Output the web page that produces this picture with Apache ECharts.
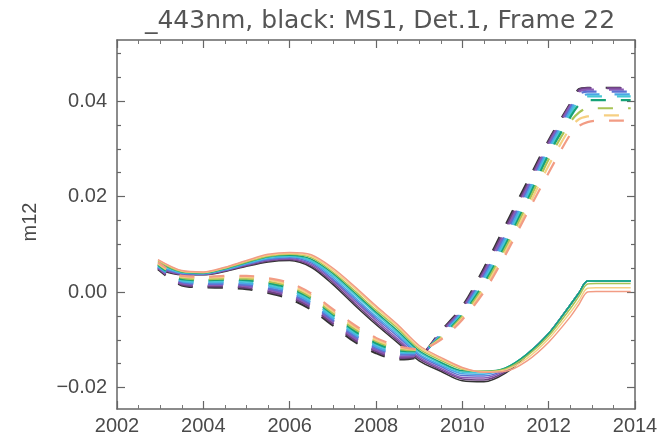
<!DOCTYPE html>
<html>
<head>
<meta charset="utf-8">
<script src="https://cdn.jsdelivr.net/npm/echarts@6/dist/echarts.min.js"></script>
<style>
  html, body { margin: 0; padding: 0; background: #fff; }
  #chart { width: 664px; height: 440px; }
</style>
</head>
<body>
<div id="chart"></div>
<script>
// Sample epochs (decimal years) shared by every curve
const years = [2002.95, 2003.5, 2004, 2004.5, 2005, 2005.5, 2006, 2006.5, 2007, 2007.5, 2008, 2008.5,
               2009, 2009.5, 2010, 2010.5, 2011, 2011.5, 2012, 2012.5, 2012.7, 2012.9, 2013.1, 2013.5, 2013.9];

// m12 model, solid curves (black = MS1 Det.1, then the colour sequence)
const solid0 = [0.0047,0.0036,0.0036,0.0043,0.0054,0.0063,0.0066,0.0052,0.0016,-0.0027,-0.0068,-0.0106,-0.0144,-0.0166,-0.0186,-0.0188,-0.0170,-0.0132,-0.0087,-0.0027,-0.0002,0.0023,0.0023,0.0023,0.0023];
const solid1 = [0.0049,0.0037,0.0037,0.0044,0.0055,0.0065,0.0068,0.0055,0.0020,-0.0023,-0.0064,-0.0102,-0.0140,-0.0163,-0.0182,-0.0184,-0.0167,-0.0131,-0.0087,-0.0027,-0.0002,0.0023,0.0023,0.0023,0.0023];
const solid2 = [0.0051,0.0038,0.0037,0.0045,0.0057,0.0067,0.0070,0.0058,0.0024,-0.0018,-0.0059,-0.0098,-0.0137,-0.0160,-0.0179,-0.0180,-0.0164,-0.0130,-0.0087,-0.0027,-0.0002,0.0023,0.0023,0.0023,0.0023];
const solid3 = [0.0054,0.0039,0.0038,0.0046,0.0058,0.0068,0.0072,0.0061,0.0027,-0.0014,-0.0055,-0.0093,-0.0133,-0.0156,-0.0175,-0.0176,-0.0162,-0.0130,-0.0087,-0.0027,-0.0002,0.0023,0.0023,0.0023,0.0023];
const solid4 = [0.0056,0.0040,0.0039,0.0047,0.0059,0.0070,0.0074,0.0064,0.0031,-0.0010,-0.0051,-0.0089,-0.0130,-0.0153,-0.0171,-0.0172,-0.0160,-0.0130,-0.0087,-0.0027,-0.0002,0.0023,0.0023,0.0023,0.0023];
const solid5 = [0.0059,0.0041,0.0039,0.0048,0.0061,0.0072,0.0075,0.0066,0.0035,-0.0005,-0.0046,-0.0085,-0.0126,-0.0150,-0.0168,-0.0169,-0.0159,-0.0130,-0.0087,-0.0027,-0.0002,0.0023,0.0023,0.0023,0.0023];
const solid6 = [0.0062,0.0042,0.0040,0.0049,0.0062,0.0074,0.0077,0.0069,0.0039,-0.0001,-0.0042,-0.0081,-0.0123,-0.0147,-0.0165,-0.0166,-0.0159,-0.0130,-0.0087,-0.0027,-0.0002,0.0023,0.0023,0.0023,0.0023];
const solid7 = [0.0065,0.0043,0.0041,0.0050,0.0063,0.0075,0.0079,0.0072,0.0042,0.0003,-0.0038,-0.0076,-0.0119,-0.0143,-0.0162,-0.0166,-0.0161,-0.0134,-0.0092,-0.0035,-0.0009,0.0017,0.0018,0.0018,0.0018];
const solid8 = [0.0067,0.0044,0.0041,0.0051,0.0065,0.0077,0.0081,0.0075,0.0046,0.0008,-0.0033,-0.0072,-0.0116,-0.0140,-0.0160,-0.0167,-0.0163,-0.0139,-0.0098,-0.0043,-0.0018,0.0008,0.0009,0.0009,0.0009];
const solid9 = [0.0068,0.0045,0.0042,0.0052,0.0066,0.0079,0.0083,0.0078,0.0050,0.0012,-0.0029,-0.0068,-0.0112,-0.0137,-0.0158,-0.0168,-0.0166,-0.0144,-0.0105,-0.0052,-0.0026,0.0000,0.0001,0.0001,0.0001];

// m12 model, dashed curves (same colour sequence)
const dash0 = [0.0048,0.0014,0.0010,0.0009,0.0006,-0.0002,-0.0014,-0.0037,-0.0070,-0.0104,-0.0128,-0.0141,-0.0135,-0.0082,-0.0030,0.0050,0.0140,0.0230,0.0318,0.0395,0.0425,0.0428,0.0428,0.0428,0.0428];
const dash1 = [0.0050,0.0016,0.0012,0.0012,0.0009,0.0001,-0.0010,-0.0033,-0.0066,-0.0100,-0.0124,-0.0138,-0.0134,-0.0084,-0.0033,0.0045,0.0134,0.0224,0.0315,0.0393,0.0423,0.0427,0.0427,0.0427,0.0427];
const dash2 = [0.0051,0.0018,0.0015,0.0015,0.0012,0.0005,-0.0007,-0.0029,-0.0062,-0.0096,-0.0121,-0.0135,-0.0132,-0.0086,-0.0036,0.0040,0.0127,0.0218,0.0310,0.0390,0.0419,0.0424,0.0424,0.0424,0.0424];
const dash3 = [0.0053,0.0021,0.0017,0.0017,0.0015,0.0008,-0.0003,-0.0026,-0.0059,-0.0092,-0.0117,-0.0131,-0.0130,-0.0088,-0.0039,0.0034,0.0120,0.0212,0.0305,0.0385,0.0414,0.0420,0.0420,0.0420,0.0420];
const dash4 = [0.0054,0.0023,0.0020,0.0020,0.0018,0.0012,0.0001,-0.0022,-0.0055,-0.0088,-0.0114,-0.0128,-0.0128,-0.0090,-0.0042,0.0029,0.0113,0.0205,0.0300,0.0379,0.0407,0.0414,0.0414,0.0414,0.0414];
const dash5 = [0.0056,0.0025,0.0022,0.0023,0.0022,0.0015,0.0004,-0.0018,-0.0051,-0.0085,-0.0110,-0.0125,-0.0126,-0.0092,-0.0045,0.0023,0.0106,0.0198,0.0294,0.0373,0.0401,0.0410,0.0410,0.0410,0.0410];
const dash6 = [0.0057,0.0027,0.0025,0.0026,0.0025,0.0019,0.0008,-0.0014,-0.0047,-0.0081,-0.0107,-0.0122,-0.0124,-0.0094,-0.0048,0.0018,0.0099,0.0191,0.0288,0.0366,0.0392,0.0402,0.0402,0.0402,0.0402];
const dash7 = [0.0059,0.0030,0.0027,0.0028,0.0028,0.0022,0.0012,-0.0011,-0.0044,-0.0077,-0.0103,-0.0119,-0.0122,-0.0096,-0.0051,0.0012,0.0092,0.0183,0.0278,0.0356,0.0376,0.0385,0.0385,0.0385,0.0385];
const dash8 = [0.0060,0.0032,0.0030,0.0031,0.0031,0.0026,0.0015,-0.0007,-0.0040,-0.0073,-0.0100,-0.0116,-0.0121,-0.0098,-0.0055,0.0006,0.0085,0.0174,0.0265,0.0344,0.0362,0.0368,0.0370,0.0370,0.0370];
const dash9 = [0.0062,0.0034,0.0032,0.0034,0.0034,0.0029,0.0019,-0.0003,-0.0036,-0.0069,-0.0096,-0.0113,-0.0120,-0.0100,-0.0058,0.0000,0.0078,0.0165,0.0250,0.0330,0.0348,0.0356,0.0359,0.0359,0.0359];

const solidSets = [solid0, solid1, solid2, solid3, solid4, solid5, solid6, solid7, solid8, solid9];
const dashSets  = [dash0, dash1, dash2, dash3, dash4, dash5, dash6, dash7, dash8, dash9];
const colors = ['#333333', '#6e4282', '#8c5ab4', '#5e72d2', '#4aa6e6', '#46c6d6', '#16a277', '#a8c455', '#f6cf82', '#f29c84'];

// Axis ticks and labels
const yMajor = [-0.02, 0.00, 0.02, 0.04];
const yMinor = [-0.015, -0.01, -0.005, 0.005, 0.01, 0.015, 0.025, 0.03, 0.035, 0.045, 0.05];
const xRange = [2002, 2014];
const yRange = [-0.0245, 0.0528];

const titleText = '_443nm, black: MS1, Det.1, Frame 22';
const yName = 'm12';

const axisColor = '#666';
const textColor = '#4a4a4a';
const labelFont = 'Liberation Sans, Arial, sans-serif';

const chart = echarts.init(document.getElementById('chart'), null, { renderer: 'canvas' });

const fmtY = v => (Math.abs(v) < 1e-9 ? '0.00' : v.toFixed(2).replace('-', '\u2212'));
const fmtX = v => String(Math.round(v));

function xAx(pos, showLabel) {
  return {
    type: 'value', position: pos, min: xRange[0], max: xRange[1], interval: 2,
    axisLine: { show: true, onZero: false, lineStyle: { color: axisColor, width: 1.5 } },
    axisTick: { show: true, inside: true, length: 8, lineStyle: { color: axisColor, width: 1.2 } },
    minorTick: { show: true, splitNumber: 4, length: 4, lineStyle: { color: '#777', width: 1 } },
    axisLabel: { show: showLabel, formatter: fmtX, color: textColor, fontSize: 20, fontFamily: labelFont, margin: 7 },
    splitLine: { show: false }
  };
}

function yAx(pos, ticks, len, showLabel, showLine) {
  return {
    type: 'value', position: pos, min: yRange[0], max: yRange[1],
    axisLine: { show: showLine, onZero: false, lineStyle: { color: axisColor, width: 1.5 } },
    axisTick: { show: true, inside: true, length: len, customValues: ticks, lineStyle: { color: axisColor, width: 1.2 } },
    axisLabel: { show: showLabel, customValues: ticks, formatter: fmtY, color: textColor, fontSize: 20, fontFamily: labelFont, margin: 10 },
    splitLine: { show: false }
  };
}

const series = [];
solidSets.forEach((vals, i) => {
  series.push({
    type: 'line', xAxisIndex: 0, yAxisIndex: 0,
    data: years.map((x, k) => [x, vals[k]]),
    showSymbol: false, smooth: 0.3, silent: true,
    lineStyle: { color: colors[i], width: 1.5 }
  });
});
dashSets.forEach((vals, i) => {
  series.push({
    type: 'line', xAxisIndex: 0, yAxisIndex: 0,
    data: years.map((x, k) => [x, vals[k]]),
    showSymbol: false, smooth: 0.3, silent: true,
    lineStyle: { color: colors[i], width: 2.2, type: [15, 15], dashOffset: 5 }
  });
});

chart.setOption({
  animation: false,
  backgroundColor: '#ffffff',
  title: {
    text: titleText, left: 375, top: 4, textAlign: 'center',
    textStyle: { fontSize: 25, fontWeight: 'normal', color: '#555', fontFamily: 'DejaVu Sans, sans-serif' }
  },
  grid: { left: 117, right: 29, top: 40, bottom: 31, containLabel: false },
  xAxis: [xAx('bottom', true), xAx('top', false)],
  yAxis: [
    yAx('left', yMajor, 8, true, true),
    yAx('left', yMinor, 4, false, false),
    yAx('right', yMajor, 8, false, true),
    yAx('right', yMinor, 4, false, false)
  ],
  graphic: [{
    type: 'text', x: 30, y: 222, rotation: Math.PI / 2,
    style: { text: yName, fill: textColor, font: '20px Liberation Sans, Arial, sans-serif', align: 'center', verticalAlign: 'middle' }
  }],
  series: series
});
</script>
</body>
</html>
